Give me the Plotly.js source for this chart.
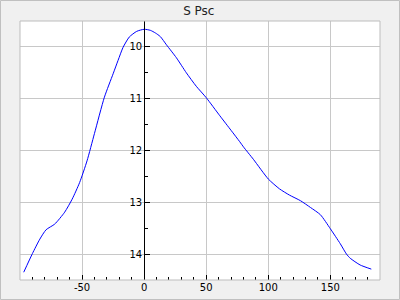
<!DOCTYPE html>
<html>
<head>
<meta charset="utf-8">
<script src="https://cdn.plot.ly/plotly-3.0.1.min.js"></script>
<style>
html,body{margin:0;padding:0;background:#f0f0f0;}
#chart{width:400px;height:300px;}
</style>
</head>
<body>
<div id="chart"></div>
<script>
var titleText = "S Psc";
var phase = [-97, -90, -84, -79, -72, -64, -58, -52, -46, -40, -32, -25, -21, -17, -12, -6, 0, 5, 9, 13, 18, 26, 34, 42, 50, 61, 70, 77, 80, 88, 100, 109, 117, 126, 134, 142, 150, 158, 163, 166, 174, 183];
var mag = [14.35, 13.99, 13.71, 13.53, 13.42, 13.19, 12.94, 12.62, 12.20, 11.67, 10.97, 10.52, 10.26, 10.01, 9.81, 9.70, 9.66, 9.68, 9.73, 9.80, 9.96, 10.21, 10.50, 10.76, 10.98, 11.33, 11.61, 11.83, 11.93, 12.17, 12.55, 12.74, 12.86, 12.97, 13.10, 13.24, 13.51, 13.80, 14.00, 14.08, 14.21, 14.29];
var xTickVals = [-50, 0, 50, 100, 150];
var xTickText = ["-50", "0", "50", "100", "150"];
var yTickVals = [10, 11, 12, 13, 14];
var yTickText = ["10", "11", "12", "13", "14"];

var xMin = -100, xMax = 190;
var trace = {
  x: phase, y: mag, type: 'scatter', mode: 'lines',
  line: {color: '#0000ff', width: 1, shape: 'spline', smoothing: 0.6}, hoverinfo: 'skip'
};
var layout = {
  width: 400, height: 300,
  margin: {l: 20, r: 20, t: 21, b: 20, pad: 0},
  paper_bgcolor: '#f0f0f0', plot_bgcolor: '#ffffff',
  font: {family: 'DejaVu Sans', size: 10, color: '#000'},
  showlegend: false,
  title: {text: titleText, font: {family: 'DejaVu Sans', size: 12, color: '#222'},
          x: 0.497, xanchor: 'center', y: 1 - 11/300, yanchor: 'middle'},
  xaxis: {
    range: [xMin, xMax], showline: false, zeroline: false,
    showgrid: true, gridcolor: '#c8c8c8', gridwidth: 1,
    tickmode: 'array', tickvals: xTickVals, ticktext: xTickText,
    ticks: 'inside', ticklen: 5, tickcolor: '#000', tickwidth: 1,
    minor: {tickmode: 'linear', tick0: 0, dtick: 10, ticks: 'inside', ticklen: 3, tickcolor: '#000', showgrid: false},
    tickfont: {family: 'DejaVu Sans', size: 10, color: '#000'}
  },
  yaxis: {
    range: [14.5, 9.5], anchor: 'free', position: (0 - xMin) / (xMax - xMin), side: 'left',
    showline: true, linecolor: '#000', linewidth: 1, zeroline: false,
    showgrid: true, gridcolor: '#c8c8c8', gridwidth: 1,
    tickmode: 'array', tickvals: yTickVals, ticktext: yTickText,
    ticks: 'inside', ticklen: 5, tickcolor: '#000', tickwidth: 1,
    minor: {tickmode: 'linear', tick0: 9.5, dtick: 0.5, ticks: 'inside', ticklen: 3, tickcolor: '#000', showgrid: false},
    tickfont: {family: 'DejaVu Sans', size: 10, color: '#000'}
  },
  shapes: [
    {type: 'rect', xref: 'paper', yref: 'paper', x0: 0, x1: 1, y0: 0, y1: 1,
     line: {color: '#bdbdbd', width: 1}, layer: 'above'},
    {type: 'rect', xref: 'paper', yref: 'paper',
     x0: (0.5 - 20) / 360, x1: (399.5 - 20) / 360,
     y0: (280 - 299.5) / 259, y1: 1 + (21 - 0.5) / 259,
     line: {color: '#c0c0c0', width: 1}, layer: 'above'}
  ]
};
Plotly.newPlot('chart', [trace], layout, {staticPlot: true, displayModeBar: false});
</script>
</body>
</html>
